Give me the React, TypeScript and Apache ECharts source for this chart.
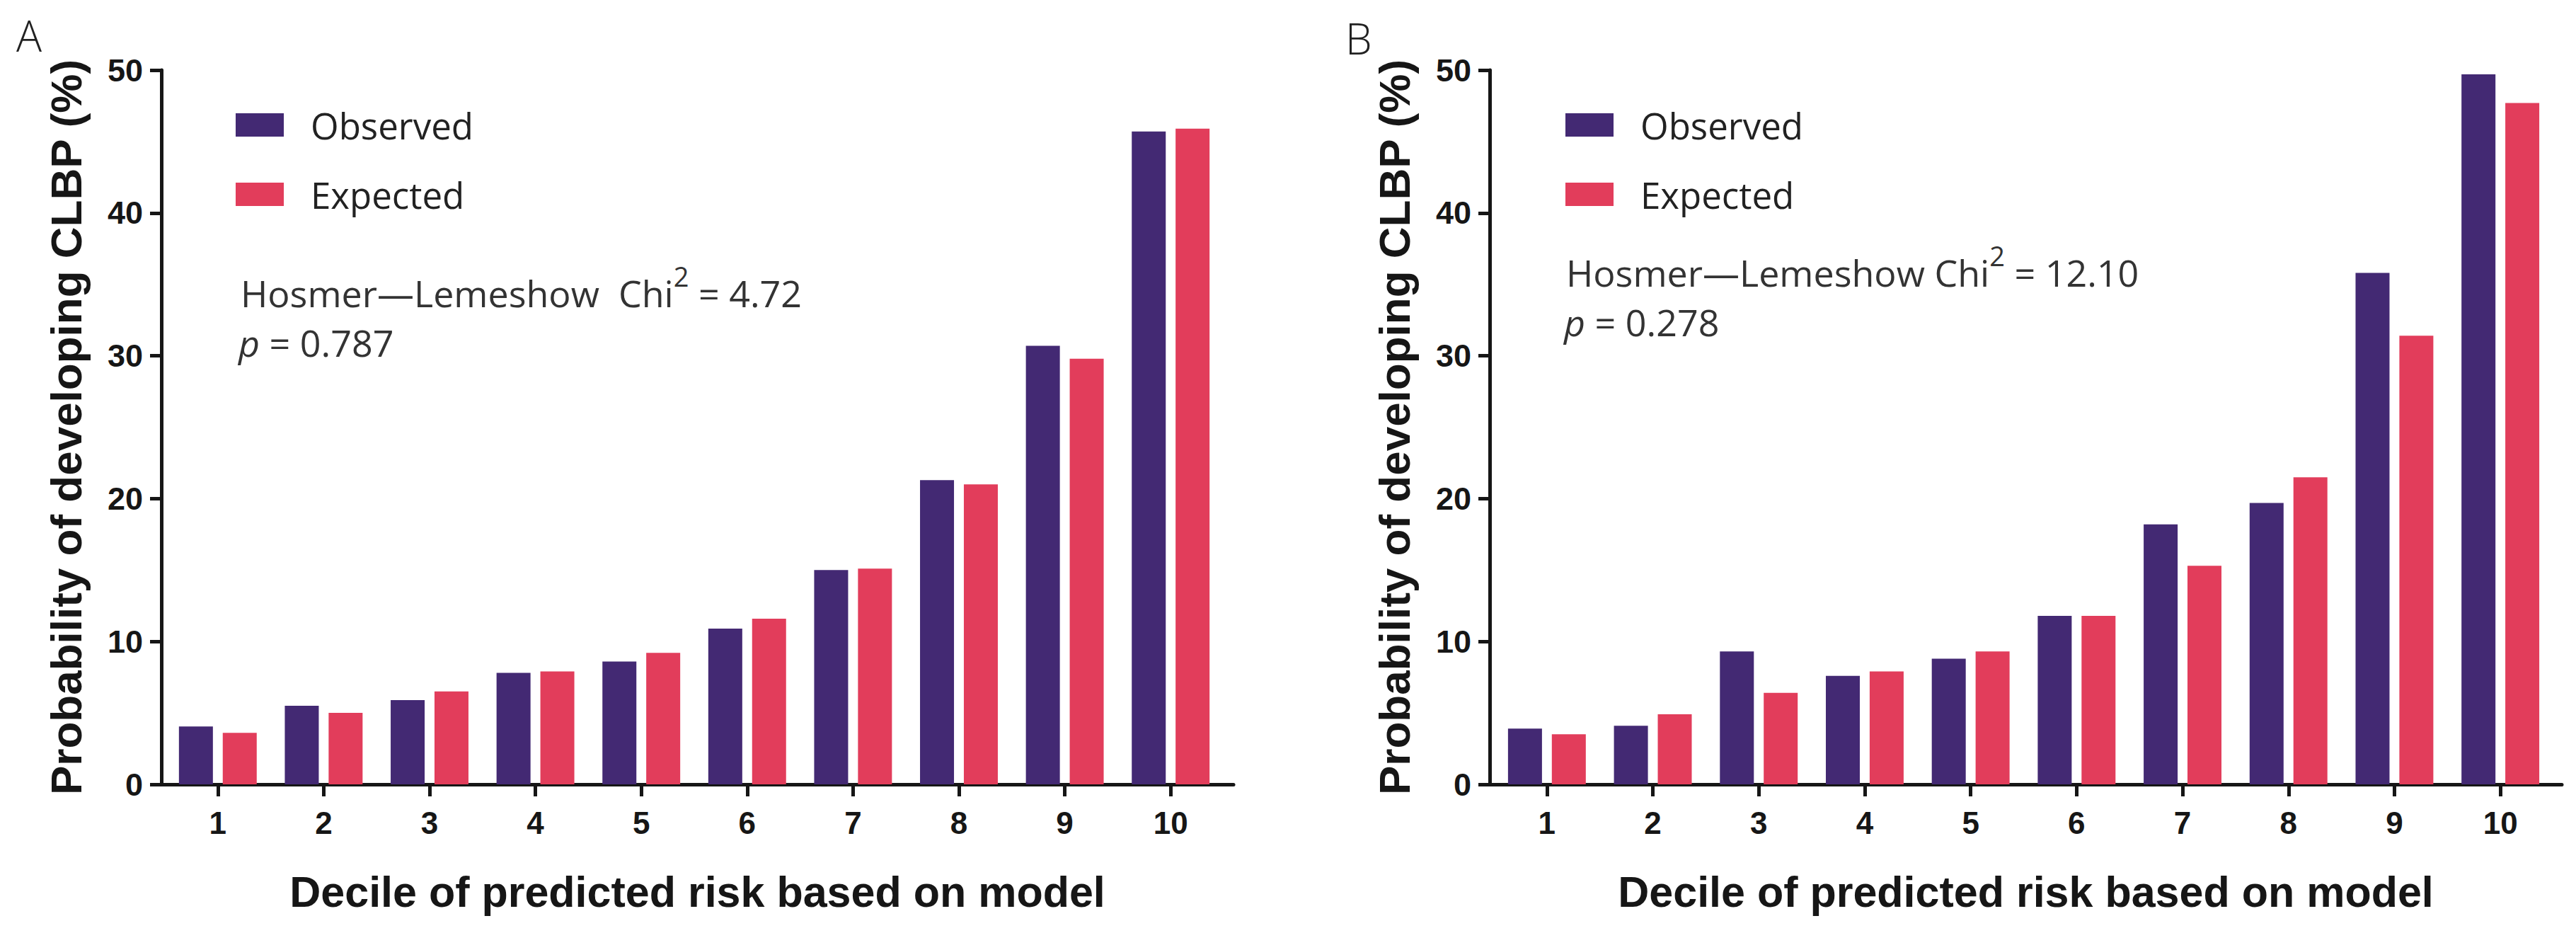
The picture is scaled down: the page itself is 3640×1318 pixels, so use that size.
import React, { useEffect, useRef } from "react";
import * as echarts from "echarts";

const deciles = ["1", "2", "3", "4", "5", "6", "7", "8", "9", "10"];
const observedA = [4.05, 5.5, 5.9, 7.8, 8.6, 10.9, 15.0, 21.3, 30.7, 45.7];
const expectedA = [3.6, 5.0, 6.5, 7.9, 9.2, 11.6, 15.1, 21.0, 29.8, 45.9];
const observedB = [3.9, 4.1, 9.3, 7.6, 8.8, 11.8, 18.2, 19.7, 35.8, 49.7];
const expectedB = [3.5, 4.9, 6.4, 7.9, 9.3, 11.8, 15.3, 21.5, 31.4, 47.7];
const seriesNames = ["Observed", "Expected"];
const yMin = 0;
const yMax = 50;
const yInterval = 10;
const xTitle = "Decile of predicted risk based on model";
const yTitle = "Probability of developing CLBP (%)";
const statsA = { chi: "4.72", p: "0.787", sep: "\u00a0 " };
const statsB = { chi: "12.10", p: "0.278", sep: " " };

const PURPLE = "#432973";
const RED = "#E23D5B";
const INK = "#161616";
const BOLD = "Liberation Sans, Arial, sans-serif";
const SANS = "Open Sans, Noto Sans, sans-serif";

export default function App() {
  const ref = useRef<HTMLDivElement>(null);

  useEffect(() => {
    document.body.style.margin = "0";
    if (!ref.current) return;
    const chart = echarts.init(ref.current, null, { renderer: "svg" });

    const panels = [
      { frameLeft: 228, bandLeft: 233, bandWidth: 1496, obs: observedA, exp: expectedA, legendLeft: 333, letter: "A", letterX: 23, letterY: 50, stats: statsA, sx: 340, sy1: 413, sy2: 483 },
      { frameLeft: 2105, bandLeft: 2111, bandWidth: 1497, obs: observedB, exp: expectedB, legendLeft: 2212, letter: "B", letterX: 1901, letterY: 54, stats: statsB, sx: 2213, sy1: 384, sy2: 454 },
    ];
    const top = 99;
    const height = 1009;
    const frameWidth = 1515;

    const grid: any[] = [];
    const xAxis: any[] = [];
    const yAxis: any[] = [];
    const series: any[] = [];
    const legend: any[] = [];
    const graphic: any[] = [];

    panels.forEach((p, i) => {
      const gFrame = i * 2;
      const gBand = i * 2 + 1;
      grid.push({ left: p.frameLeft, top, width: frameWidth, height });
      grid.push({ left: p.bandLeft, top, width: p.bandWidth, height });

      xAxis.push({
        gridIndex: gFrame,
        type: "value",
        min: 0,
        max: 1,
        axisLine: { show: true, lineStyle: { color: INK, width: 5 } },
        axisTick: { show: false },
        axisLabel: { show: false },
        splitLine: { show: false },
        name: xTitle,
        nameLocation: "middle",
        nameGap: 122,
        nameTextStyle: { fontFamily: BOLD, fontWeight: "bold", fontSize: 61, lineHeight: 60, color: INK },
      });
      xAxis.push({
        gridIndex: gBand,
        type: "category",
        data: deciles,
        axisLine: { show: false },
        axisTick: { show: true, alignWithLabel: true, length: 17, lineStyle: { color: INK, width: 5 } },
        axisLabel: { margin: 33, fontFamily: BOLD, fontWeight: "bold", fontSize: 44, lineHeight: 42, color: INK },
        splitLine: { show: false },
      });
      yAxis.push({
        gridIndex: gFrame,
        type: "value",
        min: yMin,
        max: yMax,
        interval: yInterval,
        axisLine: { show: true, lineStyle: { color: INK, width: 5 } },
        axisTick: { show: true, length: 16, lineStyle: { color: INK, width: 5 } },
        axisLabel: { margin: 26, fontFamily: BOLD, fontWeight: "bold", fontSize: 45, color: INK },
        splitLine: { show: false },
        name: yTitle,
        nameLocation: "middle",
        nameRotate: 90,
        nameGap: 104,
        nameTextStyle: { fontFamily: BOLD, fontWeight: "bold", fontSize: 62, lineHeight: 62, color: INK },
      });
      yAxis.push({ gridIndex: gBand, type: "value", min: yMin, max: yMax, show: false, splitLine: { show: false } });

      series.push({
        type: "bar",
        name: seriesNames[0],
        xAxisIndex: gBand,
        yAxisIndex: gBand,
        data: p.obs,
        barWidth: 48,
        barGap: "29%",
        itemStyle: { color: PURPLE },
      });
      series.push({
        type: "bar",
        name: seriesNames[1],
        xAxisIndex: gBand,
        yAxisIndex: gBand,
        data: p.exp,
        barWidth: 48,
        barGap: "29%",
        itemStyle: { color: RED },
      });

      legend.push({
        orient: "vertical",
        left: p.legendLeft,
        top: 151,
        padding: 0,
        icon: "rect",
        itemWidth: 68,
        itemHeight: 33,
        itemGap: 47,
        selectedMode: false,
        data: seriesNames,
        textStyle: { fontFamily: SANS, fontSize: 51, color: "#222", lineHeight: 33, padding: [0, 0, 0, 33] },
      });

      graphic.push({
        type: "text",
        x: p.letterX,
        y: p.letterY,
        style: { text: p.letter, fontFamily: SANS, fontWeight: 300, fontSize: 60, fill: "#222", verticalAlign: "middle" },
      });
      graphic.push({
        type: "text",
        x: p.sx,
        y: p.sy1,
        style: {
          text: `{a|Hosmer\u2014Lemeshow${p.stats.sep}Chi}{s|2}{a| = ${p.stats.chi}}`,
          verticalAlign: "middle",
          rich: {
            a: { fontFamily: SANS, fontSize: 52, fill: "#333", lineHeight: 84 },
            s: { fontFamily: SANS, fontSize: 38, fill: "#333", lineHeight: 38, verticalAlign: "top" },
          },
        },
      });
      graphic.push({
        type: "text",
        x: p.sx - 3,
        y: p.sy2,
        style: {
          text: `{i|p}{a| = ${p.stats.p}}`,
          verticalAlign: "middle",
          rich: {
            i: { fontFamily: SANS, fontStyle: "italic", fontSize: 52, fill: "#333", lineHeight: 60 },
            a: { fontFamily: SANS, fontSize: 52, fill: "#333", lineHeight: 60 },
          },
        },
      });
    });

    chart.setOption({
      animation: false,
      backgroundColor: "#ffffff",
      grid,
      xAxis,
      yAxis,
      series,
      legend,
      graphic,
    });

    return () => chart.dispose();
  }, []);

  return <div ref={ref} style={{ position: "absolute", left: 0, top: 0, width: 3640, height: 1318 }} />;
}
